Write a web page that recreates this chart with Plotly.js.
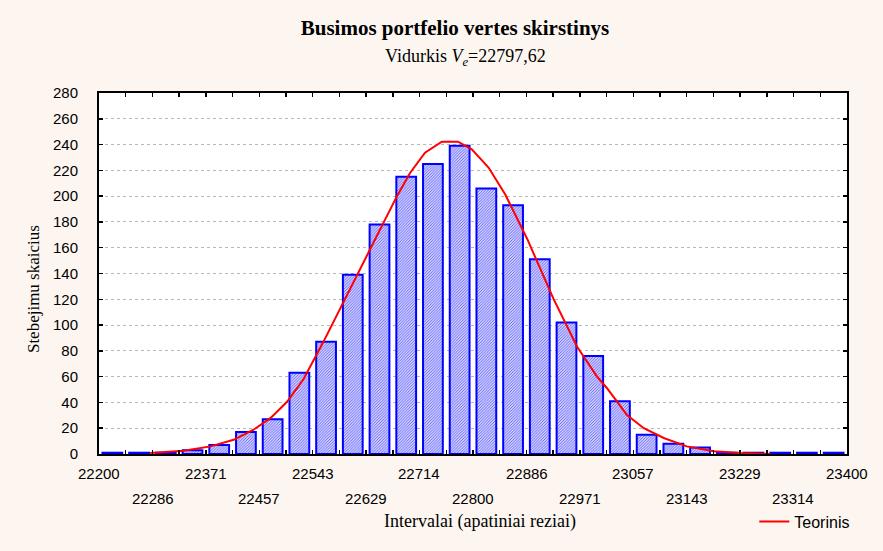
<!DOCTYPE html>
<html>
<head>
<meta charset="utf-8">
<script src="https://cdn.plot.ly/plotly-3.0.1.min.js"></script>
<style>html,body{margin:0;padding:0;background:#fdf6f0;}#chart{width:883px;height:551px;}</style>
</head>
<body>
<div id="chart"></div>
<script>
// Histogram: 28 intervals between 22200 and 23400
const xMin = 22200;
const xMax = 23400;
const counts = [1, 1, 1, 3, 7, 17, 27, 63, 87, 139, 178, 215, 225, 239,
                206, 193, 151, 102, 76, 41, 15, 8, 5, 1, 1, 1, 1, 1];

// Theoretical (normal) curve
const curveX = [22282, 22336, 22379, 22416, 22448, 22475, 22502, 22528, 22560, 22592,
                22630, 22651, 22678, 22699, 22723, 22750, 22776, 22798, 22825, 22852,
                22887, 22929, 22967, 22999, 23015, 23047, 23074, 23106, 23143, 23186,
                23229, 23277];
const curveY = [0.8, 2.5, 5.9, 11, 18.8, 27.8, 40.7, 58, 87, 118,
                154, 174.5, 200, 218, 233.7, 242.2, 242.2, 236.3, 222.2, 201,
                166.8, 120.5, 83.2, 60, 51, 30.3, 20, 12.4, 5.9, 2.1,
                0.8, 0];

const tickLabels = ['22200', '22286', '22371', '22457', '22543', '22629', '22714', '22800',
                    '22886', '22971', '23057', '23143', '23229', '23314', '23400'];

const titleText = '<b>Busimos portfelio vertes skirstinys</b>';
const subtitleText = 'Vidurkis <i>V</i><sub><i>e</i></sub>=22797,62';
const xTitle = 'Intervalai (apatiniai reziai)';
const yTitle = 'Stebejimu skaicius';
const curveName = 'Teorinis';

const n = counts.length;
const w = (xMax - xMin) / n;
const centers = counts.map((_, i) => xMin + (i + 0.5) * w);
const edges = [];
for (let i = 0; i <= n; i++) edges.push(xMin + i * w);

const serif = 'Liberation Serif, Times New Roman, serif';
const sans = 'Liberation Sans, Arial, sans-serif';

const bars = {
  type: 'bar', x: centers, y: counts, width: w * 0.74, showlegend: false,
  marker: {
    color: '#ffffff',
    pattern: {shape: '/', fgcolor: '#5a5aff', bgcolor: '#ffffff', size: 2, solidity: 0.5},
    line: {color: '#0000ff', width: 2}
  },
  hoverinfo: 'x+y'
};
const curve = {
  type: 'scatter', mode: 'lines', x: curveX, y: curveY, name: curveName,
  line: {color: '#ff0000', width: 2}
};

const annotations = tickLabels.map((t, i) => ({
  x: Number(t), xref: 'x', y: 0, yref: 'paper', text: t, showarrow: false,
  xanchor: 'center', yanchor: 'middle', yshift: i % 2 === 0 ? -19 : -44,
  font: {family: sans, size: 15, color: '#000'}
}));
annotations.push({
  x: (465 - 98.7) / 748, xref: 'paper', y: (456 - 58) / 362.7, yref: 'paper',
  text: subtitleText, showarrow: false, xanchor: 'center', yanchor: 'middle',
  font: {family: serif, size: 18, color: '#000'}
});
annotations.push({
  x: (480 - 98.7) / 748, xref: 'paper', y: (456 - 524) / 362.7, yref: 'paper',
  text: xTitle, showarrow: false, xanchor: 'center', yanchor: 'middle',
  font: {family: serif, size: 18, color: '#000'}
});
annotations.push({
  x: (33 - 98.7) / 748, xref: 'paper', y: (456 - 290) / 362.7, yref: 'paper', textangle: -90,
  text: yTitle, showarrow: false, xanchor: 'center', yanchor: 'middle',
  font: {family: serif, size: 17, color: '#000'}
});

const layout = {
  width: 883, height: 551,
  paper_bgcolor: '#fdf6f0', plot_bgcolor: '#ffffff',
  margin: {l: 98.7, r: 36.3, t: 93.3, b: 95},
  title: {text: titleText, x: 455 / 883, xref: 'container', xanchor: 'center',
          y: 1 - 28 / 551, yref: 'container', yanchor: 'middle',
          font: {family: serif, size: 21, color: '#000'}},
  xaxis: {
    range: [xMin, xMax], tickvals: edges, showticklabels: false,
    ticks: 'inside', ticklen: 4, tickwidth: 1.5, tickcolor: '#000',
    showline: true, linecolor: '#000', linewidth: 2, mirror: 'ticks',
    showgrid: false, zeroline: false, fixedrange: true
  },
  yaxis: {
    range: [0, 280], dtick: 20, tick0: 0,
    ticks: 'inside', ticklen: 4, tickwidth: 1.5, tickcolor: '#000',
    showline: true, linecolor: '#000', linewidth: 2, mirror: 'ticks',
    showgrid: true, gridcolor: '#b8b8b8', griddash: '3px,3px', gridwidth: 1,
    zeroline: false, ticklabelstandoff: 16,
    tickfont: {family: sans, size: 15, color: '#000'}, fixedrange: true
  },
  showlegend: true,
  legend: {x: (754 - 98.7) / 748, xanchor: 'left', y: (456 - 524) / 362.7, yanchor: 'middle',
           bgcolor: 'rgba(0,0,0,0)', font: {family: sans, size: 16, color: '#000'}},
  bargap: 0.26,
  annotations: annotations
};

Plotly.newPlot('chart', [bars, curve], layout, {displayModeBar: false, staticPlot: true});
</script>
</body>
</html>
